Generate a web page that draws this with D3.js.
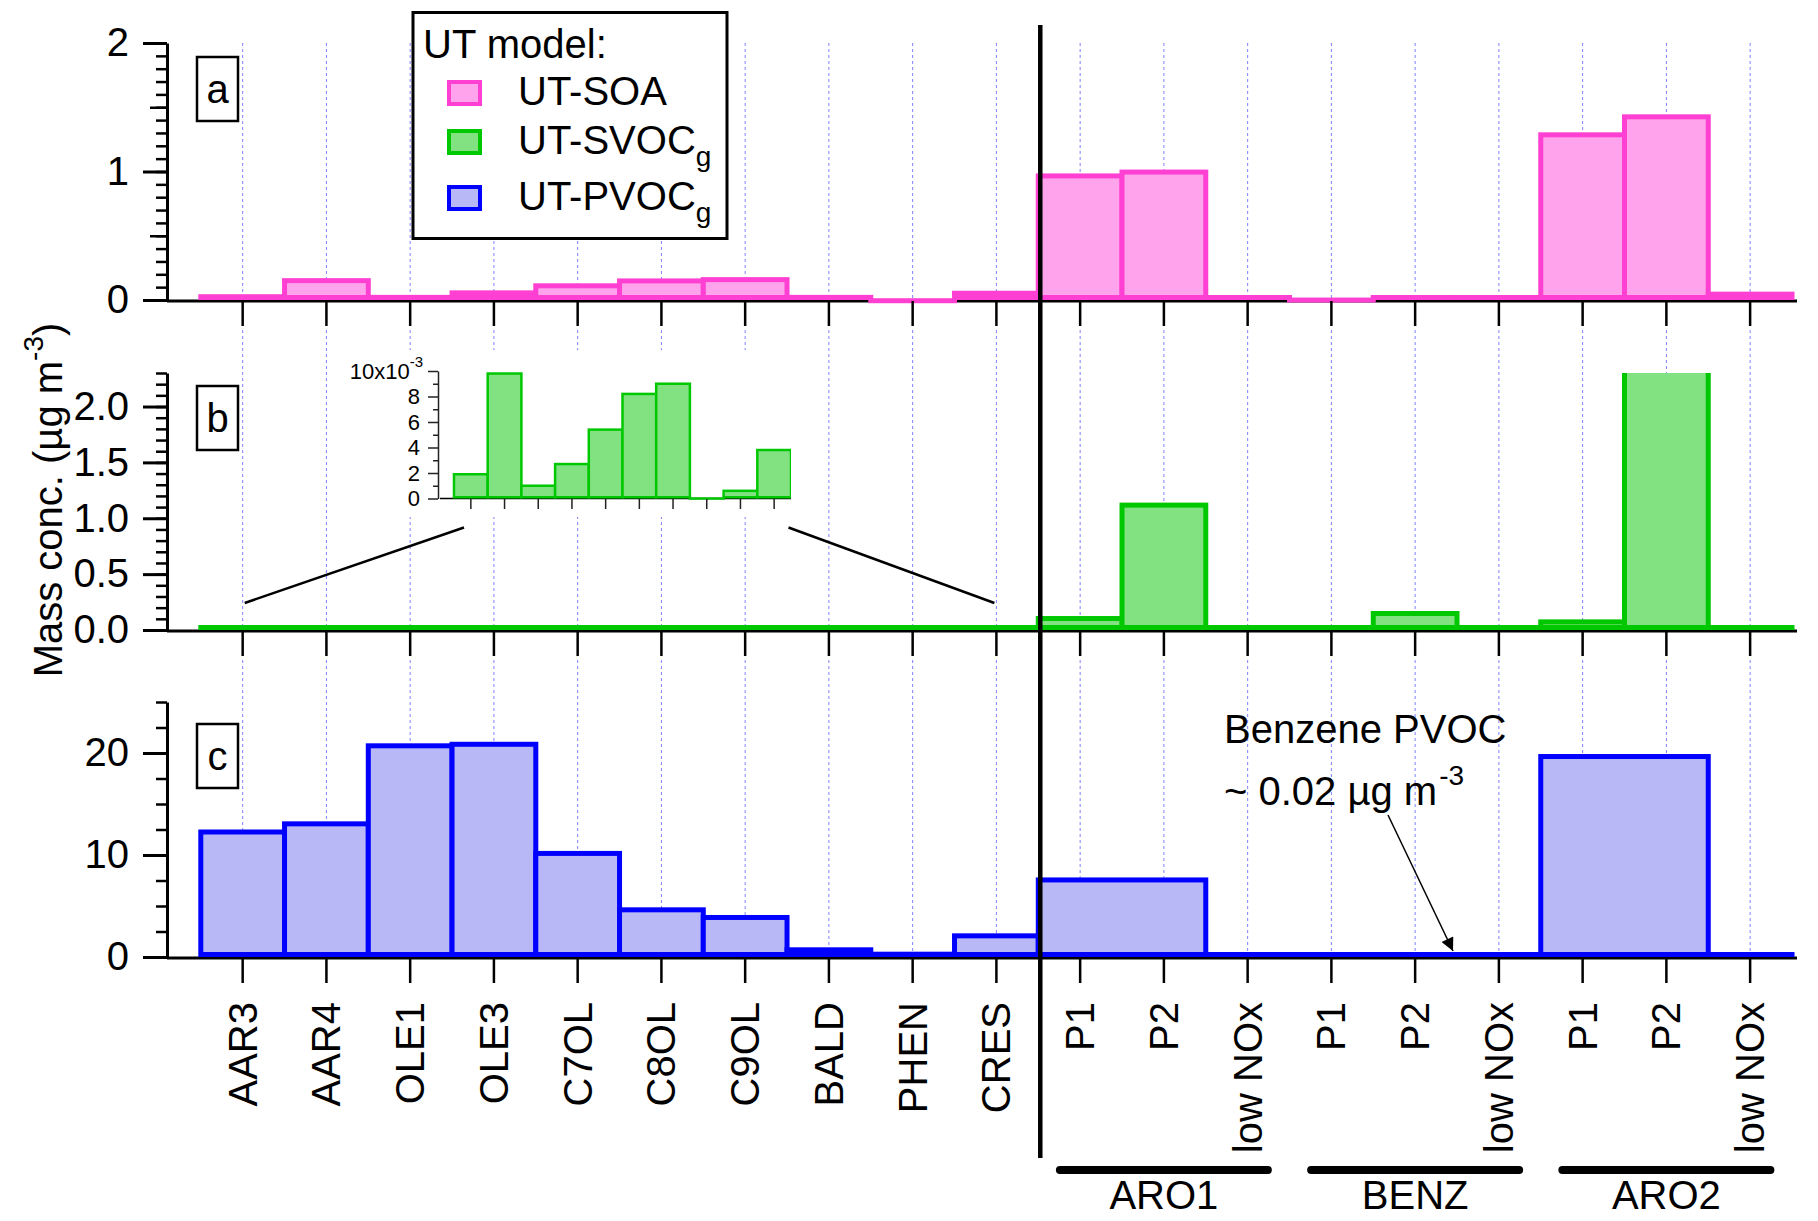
<!DOCTYPE html>
<html>
<head>
<meta charset="utf-8">
<script src="https://cdn.jsdelivr.net/npm/d3@7"></script>
<style>
  body { margin: 0; background: #fff; }
  svg { display: block; }
  text { font-family: "Liberation Sans", Arial, sans-serif; fill: #000; }
</style>
</head>
<body>
<svg id="chart" width="1818" height="1221"></svg>
<script>
// x categories (lumped species, then the three aromatic groups)
const categories = ["AAR3", "AAR4", "OLE1", "OLE3", "C7OL", "C8OL", "C9OL", "BALD", "PHEN", "CRES",
  "P1", "P2", "low NOx", "P1", "P2", "low NOx", "P1", "P2", "low NOx"];
const groupNames = ["ARO1", "BENZ", "ARO2"];
const groupFirst = [10, 13, 16];

// mass concentrations, ug m-3
const soa = [0.045, 0.17, 0.04, 0.075, 0.13, 0.168, 0.178, 0.04, -0.025, 0.072,
  0.985, 1.015, 0.03, -0.02, 0.03, 0.02, 1.305, 1.445, 0.065];
const svoc = [0.0020, 0.0099, 0.0011, 0.0028, 0.0055, 0.0083, 0.0091, -0.0001, 0.0007, 0.0039,
  0.125, 1.14, 0.01, 0.005, 0.17, 0.01, 0.095, 2.5, 0.01];
const pvoc = [12.5, 13.3, 20.95, 21.1, 10.4, 4.87, 4.12, 0.95, 0.52, 2.32,
  7.8, 7.8, 0.02, 0.02, 0.02, 0.02, 19.9, 19.9, 0.02];

const legendNames = ["UT-SOA", "UT-SVOC", "UT-PVOC"];
const legendSub = ["", "g", "g"];

const svg = d3.select("#chart");
const font = "\"Liberation Sans\", Arial, sans-serif";

const x = d3.scaleBand().domain(d3.range(categories.length)).range([200.8, 1792]);
const bw = x.bandwidth();
const axisLeft = 167, axisRight = 1797;

const panels = [
  { letter: "a", data: soa, stroke: "#ff40d2", fill: "#ffa4ec",
    y: d3.scaleLinear().domain([0, 2]).range([300, 43]),
    major: [0, 1, 2], medium: [0.5, 1.5], minor: d3.range(0, 2.001, 0.1),
    fmt: d3.format("d"), gridTop: 43, boxY: 57 },
  { letter: "b", data: svoc, stroke: "#00c800", fill: "#82e282",
    y: d3.scaleLinear().domain([0, 2.3]).range([630, 373]),
    major: [0, 0.5, 1, 1.5, 2], medium: [], minor: d3.range(0, 2.301, 0.1),
    fmt: d3.format(".1f"), gridTop: 330, boxY: 386 },
  { letter: "c", data: pvoc, stroke: "#0000ff", fill: "#b8b8f6",
    y: d3.scaleLinear().domain([0, 25]).range([957, 702]),
    major: [0, 10, 20], medium: [], minor: d3.range(0, 25.01, 2.5),
    fmt: d3.format("d"), gridTop: 660, boxY: 724 }
];

// consecutive equal values are drawn as one block
function runs(values) {
  const out = [];
  values.forEach(function(v, i) {
    const last = out[out.length - 1];
    if (last && last.v === v) last.end = i;
    else out.push({ v: v, start: i, end: i });
  });
  return out;
}

function drawBars(g, values, xs, ys, sw, stroke, fill) {
  const y0 = ys(0);
  runs(values).forEach(function(r) {
    const x0 = xs(r.start) - sw / 2;
    const x1 = xs(r.end) + xs.bandwidth() + sw / 2;
    let top = Math.min(y0, ys(r.v)), bot = Math.max(y0, ys(r.v));
    if (bot - top < sw) top = bot - sw;
    g.append("rect")
      .attr("x", x0).attr("y", top)
      .attr("width", x1 - x0).attr("height", bot - top)
      .attr("fill", stroke);
    if (bot - top > 2 * sw) {
      g.append("rect")
        .attr("x", x0 + sw).attr("y", top + sw)
        .attr("width", x1 - x0 - 2 * sw).attr("height", bot - top - 2 * sw)
        .attr("fill", fill);
    }
  });
}

const defs = svg.append("defs");

panels.forEach(function(p, k) {
  const g = svg.append("g").attr("class", "panel-" + p.letter);
  const y0 = p.y(0);

  // dashed vertical grid
  g.append("g").selectAll("line")
    .data(categories)
    .enter()
    .append("line")
    .attr("x1", function(d, i) { return x(i) + bw / 2; })
    .attr("x2", function(d, i) { return x(i) + bw / 2; })
    .attr("y1", p.gridTop)
    .attr("y2", y0)
    .attr("stroke", "#8080ff")
    .attr("stroke-width", 1)
    .attr("stroke-dasharray", "3,3");

  // x axis line under the bars
  g.append("line")
    .attr("x1", axisLeft).attr("x2", axisRight)
    .attr("y1", y0 + 1).attr("y2", y0 + 1)
    .attr("stroke", "#000").attr("stroke-width", 3);

  // bars, clipped to the plot area
  defs.append("clipPath").attr("id", "clip-" + p.letter)
    .append("rect")
    .attr("x", axisLeft).attr("y", p.y.range()[1])
    .attr("width", 1818 - axisLeft).attr("height", y0 - p.y.range()[1] + 20);
  const bars = g.append("g").attr("clip-path", "url(#clip-" + p.letter + ")");
  drawBars(bars, p.data, x, p.y, 5, p.stroke, p.fill);

  // x ticks
  const xAxis = g.append("g")
    .attr("transform", "translate(0," + (y0 + 1) + ")")
    .call(d3.axisBottom(x).tickSize(25).tickSizeOuter(0).tickFormat(""));
  xAxis.select(".domain").remove();
  xAxis.selectAll(".tick line").attr("stroke", "#000").attr("stroke-width", 2.5);

  // y axis: minor, medium, major ticks
  const yMinor = g.append("g")
    .attr("transform", "translate(" + axisLeft + ",0)")
    .call(d3.axisLeft(p.y).tickValues(p.minor).tickSize(11).tickSizeOuter(0).tickFormat(""));
  yMinor.select(".domain").remove();
  yMinor.selectAll(".tick line").attr("stroke", "#000").attr("stroke-width", 2.5);

  if (p.medium.length) {
    const yMed = g.append("g")
      .attr("transform", "translate(" + axisLeft + ",0)")
      .call(d3.axisLeft(p.y).tickValues(p.medium).tickSize(17).tickSizeOuter(0).tickFormat(""));
    yMed.select(".domain").remove();
    yMed.selectAll(".tick line").attr("stroke", "#000").attr("stroke-width", 2.5);
  }

  const yAxis = g.append("g")
    .attr("transform", "translate(" + axisLeft + ",0)")
    .call(d3.axisLeft(p.y).tickValues(p.major).tickSize(24).tickPadding(14).tickSizeOuter(0).tickFormat(p.fmt));
  yAxis.select(".domain").attr("stroke", "#000").attr("stroke-width", 3);
  yAxis.selectAll(".tick line").attr("stroke", "#000").attr("stroke-width", 3);
  yAxis.selectAll(".tick text").attr("font-family", font).attr("font-size", 40).attr("fill", "#000");

  // panel letter box
  g.append("rect")
    .attr("x", 197).attr("y", p.boxY).attr("width", 41).attr("height", 64)
    .attr("fill", "#fff").attr("stroke", "#000").attr("stroke-width", 2.5);
  g.append("text")
    .attr("x", 217.5).attr("y", p.boxY + 46)
    .attr("text-anchor", "middle").attr("font-size", 40)
    .text(p.letter);
});

// inset of the small SVOC values
const inset = svg.append("g").attr("class", "inset");
const ix = d3.scaleBand().domain(d3.range(10)).range([454, 791]);
const iy = d3.scaleLinear().domain([0, 0.010]).range([498.5, 371]);
inset.append("rect")
  .attr("x", 334).attr("y", 350).attr("width", 458).attr("height", 167)
  .attr("fill", "#fff");
inset.append("line")
  .attr("x1", 440).attr("x2", 791).attr("y1", 498.5).attr("y2", 498.5)
  .attr("stroke", "#000").attr("stroke-width", 1.5);
defs.append("clipPath").attr("id", "clip-inset")
  .append("rect").attr("x", 440).attr("y", 360).attr("width", 351).attr("height", 150);
const insetBars = inset.append("g").attr("clip-path", "url(#clip-inset)");
drawBars(insetBars, svoc.slice(0, 10), ix, iy, 2.5, "#00c800", "#82e282");

const ixAxis = inset.append("g")
  .attr("transform", "translate(0,499)")
  .call(d3.axisBottom(ix).tickSize(10).tickSizeOuter(0).tickFormat(""));
ixAxis.select(".domain").remove();
ixAxis.selectAll(".tick line").attr("stroke", "#222").attr("stroke-width", 1.5);

const iyMinor = inset.append("g")
  .attr("transform", "translate(438,0)")
  .call(d3.axisLeft(iy).tickValues([0.001, 0.003, 0.005, 0.007, 0.009]).tickSize(5).tickSizeOuter(0).tickFormat(""));
iyMinor.select(".domain").remove();
iyMinor.selectAll(".tick line").attr("stroke", "#222").attr("stroke-width", 1.5);

const iyAxis = inset.append("g")
  .attr("transform", "translate(438,0)")
  .call(d3.axisLeft(iy).tickValues([0, 0.002, 0.004, 0.006, 0.008, 0.010]).tickSize(10).tickPadding(8)
    .tickSizeOuter(0).tickFormat(function(d) { return d >= 0.0099 ? "" : d3.format("d")(d * 1000); }));
iyAxis.select(".domain").attr("stroke", "#222").attr("stroke-width", 1.5);
iyAxis.selectAll(".tick line").attr("stroke", "#222").attr("stroke-width", 1.5);
iyAxis.selectAll(".tick text").attr("font-family", font).attr("font-size", 22).attr("fill", "#000");
const topLabel = inset.append("text")
  .attr("x", 423).attr("y", iy(0.010) + 8)
  .attr("text-anchor", "end").attr("font-size", 22);
topLabel.append("tspan").text("10x10");
topLabel.append("tspan").attr("font-size", 15).attr("dy", -12).text("-3");

// lines linking the inset to the zero line of panel b
const linkY = 603;
inset.append("line")
  .attr("x1", x(0) + bw / 2 + 2).attr("y1", linkY)
  .attr("x2", 464).attr("y2", 527.5)
  .attr("stroke", "#000").attr("stroke-width", 2.5);
inset.append("line")
  .attr("x1", 788.5).attr("y1", 527.5)
  .attr("x2", x(9) + bw / 2 - 2).attr("y2", linkY)
  .attr("stroke", "#000").attr("stroke-width", 2.5);

// separator between lumped species and aromatic groups
svg.append("line")
  .attr("x1", x(10) + 2).attr("x2", x(10) + 2)
  .attr("y1", 25).attr("y2", 1158)
  .attr("stroke", "#000").attr("stroke-width", 4.5);

// category labels
svg.append("g").selectAll("text")
  .data(categories)
  .enter()
  .append("text")
  .attr("transform", function(d, i) {
    return "translate(" + (x(i) + bw / 2 + 14) + ",1002) rotate(-90)";
  })
  .attr("text-anchor", "end")
  .attr("font-size", 40)
  .text(function(d) { return d; });

// group brackets
const grp = svg.append("g");
groupNames.forEach(function(name, k) {
  const cx = x(groupFirst[k] + 1) + bw / 2;
  grp.append("line")
    .attr("x1", cx - 104).attr("x2", cx + 104)
    .attr("y1", 1170).attr("y2", 1170)
    .attr("stroke", "#000").attr("stroke-width", 8).attr("stroke-linecap", "round");
  grp.append("text")
    .attr("x", cx).attr("y", 1209)
    .attr("text-anchor", "middle").attr("font-size", 40)
    .text(name);
});

// y title
const ytitle = svg.append("text")
  .attr("transform", "translate(62,500) rotate(-90)")
  .attr("text-anchor", "middle")
  .attr("font-size", 40);
ytitle.append("tspan").text("Mass conc. (\u00b5g m");
ytitle.append("tspan").attr("font-size", 28).attr("dy", -19).text("-3");
ytitle.append("tspan").attr("dy", 19).text(")");

// benzene annotation
svg.append("text").attr("x", 1224).attr("y", 743).attr("font-size", 40).text("Benzene PVOC");
const ann = svg.append("text").attr("x", 1224).attr("y", 805).attr("font-size", 40);
ann.append("tspan").text("~ 0.02 \u00b5g m");
ann.append("tspan").attr("font-size", 28).attr("dy", -20).attr("dx", 2).text("-3");

defs.append("marker")
  .attr("id", "arrow")
  .attr("viewBox", "0 0 10 10")
  .attr("refX", 10).attr("refY", 5)
  .attr("markerUnits", "userSpaceOnUse")
  .attr("markerWidth", 30).attr("markerHeight", 13)
  .attr("orient", "auto")
  .append("path")
  .attr("d", "M0,0 L10,5 L0,10 Z")
  .attr("fill", "#000");
svg.append("line")
  .attr("x1", 1388).attr("y1", 815)
  .attr("x2", 1453).attr("y2", 951)
  .attr("stroke", "#000").attr("stroke-width", 1.5)
  .attr("marker-end", "url(#arrow)");

// legend
const leg = svg.append("g").attr("class", "legend");
leg.append("rect")
  .attr("x", 413).attr("y", 12.5).attr("width", 314).attr("height", 226)
  .attr("fill", "#fff").attr("stroke", "#000").attr("stroke-width", 3);
leg.append("text").attr("x", 423).attr("y", 58).attr("font-size", 40).text("UT model:");
const legY = [80, 129, 185];
legendNames.forEach(function(name, k) {
  const p = panels[k];
  leg.append("rect")
    .attr("x", 447).attr("y", legY[k]).attr("width", 35).attr("height", 26)
    .attr("fill", p.stroke);
  leg.append("rect")
    .attr("x", 451).attr("y", legY[k] + 4).attr("width", 27).attr("height", 18)
    .attr("fill", p.fill);
  const t = leg.append("text")
    .attr("x", 518).attr("y", legY[k] + 25).attr("font-size", 40);
  t.append("tspan").text(name);
  if (legendSub[k]) t.append("tspan").attr("font-size", 28).attr("dy", 12).text(legendSub[k]);
});
</script>
</body>
</html>
